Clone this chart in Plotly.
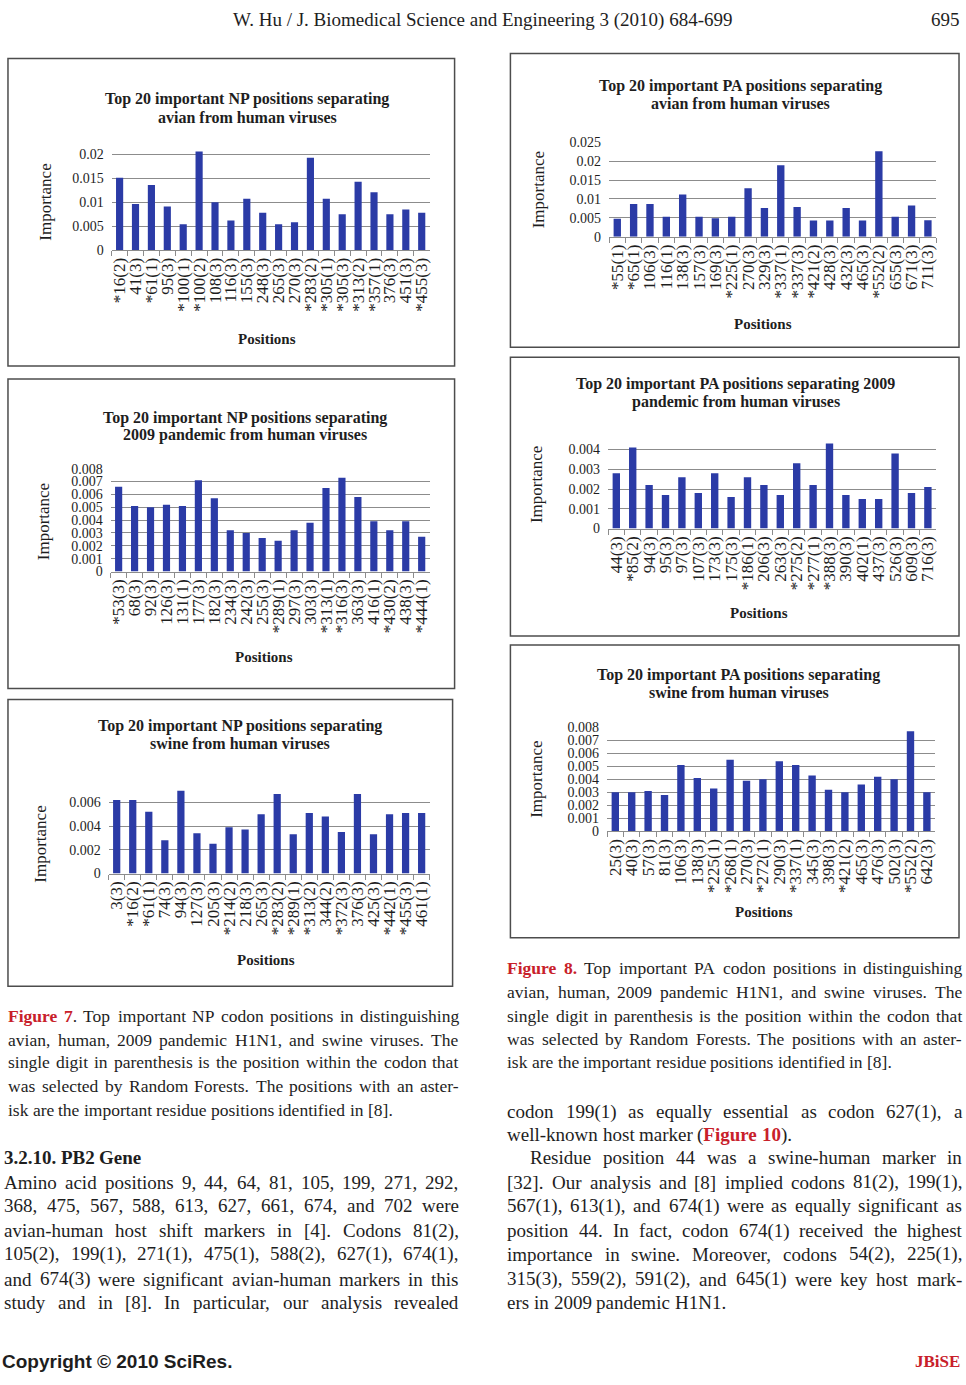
import plotly.graph_objects as go

W, H = 966, 1385
BLUE = '#2B3BA6'
GRID = '#8c8c8c'
AX = '#8c8c8c'
TXT = '#1e1e1e'
RED = '#C8202A'
SERIF = 'Liberation Serif'

# ---------------- data ----------------
np_avian_pos = ["*16(2)", "41(3)", "*61(1)", "95(3)", "*100(1)", "*100(2)", "108(3)", "116(3)", "155(3)", "248(3)",
                "265(3)", "270(3)", "*283(2)", "*305(1)", "*305(3)", "*313(2)", "*357(1)", "376(3)", "451(3)", "*455(3)"]
np_avian_imp = [0.0151, 0.0096, 0.0136, 0.0091, 0.0054, 0.0206, 0.0100, 0.0062, 0.0107, 0.0078,
                0.0054, 0.0058, 0.0193, 0.0107, 0.0075, 0.0143, 0.0121, 0.0075, 0.0085, 0.0078]

np_pdm_pos = ["*53(3)", "68(3)", "92(3)", "126(3)", "131(1)", "177(3)", "182(3)", "234(3)", "242(3)", "255(3)",
              "*289(1)", "297(3)", "303(3)", "*313(1)", "*316(3)", "363(3)", "416(1)", "*430(2)", "438(3)", "*444(1)"]
np_pdm_imp = [0.0066, 0.0051, 0.0050, 0.0052, 0.0051, 0.0071, 0.0057, 0.0032, 0.0030, 0.0026,
              0.0024, 0.0032, 0.0038, 0.0065, 0.0073, 0.0058, 0.0039, 0.0032, 0.0039, 0.0027]

np_swine_pos = ["3(3)", "*16(2)", "*61(1)", "74(3)", "94(3)", "127(3)", "205(3)", "*214(2)", "218(3)", "265(3)",
                "*283(2)", "*289(1)", "*313(2)", "344(2)", "*372(3)", "376(3)", "425(3)", "*442(1)", "*455(3)", "461(1)"]
np_swine_imp = [0.0062, 0.0062, 0.0052, 0.0028, 0.0070, 0.0034, 0.0025, 0.0039, 0.0037, 0.0050,
                0.0067, 0.0033, 0.0051, 0.0048, 0.0035, 0.0067, 0.0033, 0.0050, 0.0051, 0.0051]

pa_avian_pos = ["*55(1)", "*65(1)", "106(3)", "116(1)", "138(3)", "157(3)", "169(3)", "*225(1)", "270(3)", "329(3)",
                "*337(1)", "*337(3)", "*421(2)", "428(3)", "432(3)", "465(3)", "*552(2)", "655(3)", "671(3)", "711(3)"]
pa_avian_imp = [0.0048, 0.0087, 0.0087, 0.0053, 0.0112, 0.0053, 0.0049, 0.0053, 0.0128, 0.0076,
                0.0189, 0.0079, 0.0043, 0.0043, 0.0076, 0.0043, 0.0226, 0.0053, 0.0083, 0.0044]

pa_pdm_pos = ["44(3)", "*85(2)", "94(3)", "95(3)", "97(3)", "107(3)", "173(3)", "175(3)", "*186(1)", "206(3)",
              "263(3)", "*275(2)", "*277(1)", "*388(3)", "390(3)", "402(1)", "437(3)", "526(3)", "609(3)", "716(3)"]
pa_pdm_imp = [0.0028, 0.0041, 0.0022, 0.0017, 0.0026, 0.0018, 0.0028, 0.0016, 0.0026, 0.0022,
              0.0017, 0.0033, 0.0022, 0.0043, 0.0017, 0.0015, 0.0015, 0.0038, 0.0018, 0.0021]

pa_swine_pos = ["25(3)", "40(3)", "57(3)", "81(3)", "106(3)", "138(3)", "*225(1)", "*268(1)", "270(3)", "*272(1)",
                "290(3)", "*337(1)", "345(3)", "398(3)", "*421(2)", "465(3)", "476(3)", "502(3)", "*552(2)", "642(3)"]
pa_swine_imp = [0.0030, 0.0030, 0.0031, 0.0028, 0.0051, 0.0041, 0.0033, 0.0055, 0.0039, 0.0040,
                0.0054, 0.0051, 0.0043, 0.0032, 0.0030, 0.0036, 0.0042, 0.0040, 0.0077, 0.0030]

ticks_02 = [0, 0.005, 0.01, 0.015, 0.02]
ticks_02_txt = ["0", "0.005", "0.01", "0.015", "0.02"]
ticks_025 = [0, 0.005, 0.01, 0.015, 0.02, 0.025]
ticks_025_txt = ["0", "0.005", "0.01", "0.015", "0.02", "0.025"]
ticks_008 = [0, 0.001, 0.002, 0.003, 0.004, 0.005, 0.006, 0.007, 0.008]
ticks_008_txt = ["0", "0.001", "0.002", "0.003", "0.004", "0.005", "0.006", "0.007", "0.008"]
ticks_006 = [0, 0.002, 0.004, 0.006]
ticks_006_txt = ["0", "0.002", "0.004", "0.006"]
ticks_004 = [0, 0.001, 0.002, 0.003, 0.004]
ticks_004_txt = ["0", "0.001", "0.002", "0.003", "0.004"]

# ---------------- text ----------------
HEADER = "W. Hu / J. Biomedical Science and Engineering 3 (2010) 684-699"
PAGE_NO = "695"
CAPTION7 = ["{Figure 7}. Top important NP codon positions in distinguishing",
            "avian, human, 2009 pandemic H1N1, and swine viruses. The",
            "single digit in parenthesis is the position within the codon that",
            "was selected by Random Forests. The positions with an aster-",
            "isk are the important residue positions identified in [8]."]
CAPTION8 = ["{Figure 8.} Top important PA codon positions in distinguishing",
            "avian, human, 2009 pandemic H1N1, and swine viruses. The",
            "single digit in parenthesis is the position within the codon that",
            "was selected by Random Forests. The positions with an aster-",
            "isk are the important residue positions identified in [8]."]
HEADING = "3.2.10. PB2 Gene"
BODY_LEFT = ["Amino acid positions 9, 44, 64, 81, 105, 199, 271, 292,",
             "368, 475, 567, 588, 613, 627, 661, 674, and 702 were",
             "avian-human host shift markers in [4]. Codons 81(2),",
             "105(2), 199(1), 271(1), 475(1), 588(2), 627(1), 674(1),",
             "and 674(3) were significant avian-human markers in this",
             "study and in [8]. In particular, our analysis revealed"]
BODY_RIGHT = ["codon 199(1) as equally essential as codon 627(1), a",
              "well-known host marker ({Figure 10}).",
              "Residue position 44 was a swine-human marker in",
              "[32]. Our analysis and [8] implied codons 81(2), 199(1),",
              "567(1), 613(1), and 674(1) were as equally significant as",
              "position 44. In fact, codon 674(1) received the highest",
              "importance in swine. Moreover, codons 54(2), 225(1),",
              "315(3), 559(2), 591(2), and 645(1) were key host mark-",
              "ers in 2009 pandemic H1N1."]
COPYRIGHT = "Copyright © 2010 SciRes."
JOURNAL = "JBiSE"


def fx(x):
    return x / W


def fy(y):
    return 1 - y / H


# Times-compatible glyph widths (per 1000 em) used to justify text lines
_REG = dict(zip("ABCDEFGHIJKLMNOPQRSTUVWXYZ",
                [722, 667, 667, 722, 611, 556, 722, 722, 333, 389, 722, 611, 889, 722, 722, 556, 722, 667, 556, 611,
                 722, 722, 944, 722, 722, 611]))
_REG.update(dict(zip("abcdefghijklmnopqrstuvwxyz",
                     [444, 500, 444, 500, 444, 333, 500, 500, 278, 278, 500, 278, 778, 500, 500, 500, 500, 333, 389, 278,
                      500, 500, 722, 500, 500, 444])))
_REG.update({c: 500 for c in "0123456789*"})
_REG.update({' ': 250, ',': 250, '.': 250, '(': 333, ')': 333, '[': 333, ']': 333, '-': 333, '/': 278, ':': 278,
             '©': 760})
_BOLD = dict(_REG)
_BOLD.update(dict(zip("ABCDEFGHIJKLMNOPQRSTUVWXYZ",
                      [722, 667, 722, 722, 667, 611, 778, 778, 389, 500, 778, 667, 944, 722, 778, 611, 778, 722, 556, 667,
                       722, 722, 1000, 722, 722, 667])))
_BOLD.update(dict(zip("abcdefghijklmnopqrstuvwxyz",
                      [500, 556, 444, 556, 444, 333, 500, 556, 278, 333, 556, 278, 833, 556, 500, 556, 556, 444, 389, 333,
                       556, 500, 722, 500, 500, 444])))


def text_width(s, bold, size):
    tbl = _BOLD if bold else _REG
    return sum(tbl.get(c, 500) for c in s) * size / 1000.0


def parse_words(line):
    words, cur, red = [], [], False
    for ch in line:
        if ch == '{':
            red = True
            continue
        if ch == '}':
            red = False
            continue
        if ch == ' ':
            if cur:
                words.append(cur)
            cur = []
            continue
        if cur and cur[-1][1] == red:
            cur[-1] = (cur[-1][0] + ch, red)
        else:
            cur.append((ch, red))
    if cur:
        words.append(cur)
    return words


annotations = []


def add_text_line(line, x0, x1, y, size, justify, all_bold=False):
    words = parse_words(line)
    widths = []
    htmls = []
    for w in words:
        wd = 0
        h = ''
        for seg, red in w:
            b = red or all_bold
            wd += text_width(seg, b, size)
            t = seg
            if b:
                t = '<b>' + t + '</b>'
            if red:
                t = '<span style="color:%s">%s</span>' % (RED, t)
            h += t
        widths.append(wd)
        htmls.append(h)
    space = 0.25 * size
    if justify and len(words) > 1:
        gap = (x1 - x0 - sum(widths)) / (len(words) - 1)
    else:
        gap = space
    x = x0
    for h, wd in zip(htmls, widths):
        annotations.append(dict(x=fx(x), y=fy(y), xref='paper', yref='paper', text=h, showarrow=False,
                                xanchor='left', yanchor='middle', borderpad=0,
                                font=dict(family=SERIF, size=size, color=TXT)))
        x += wd + gap


def add_label(text, x, y, size, bold=False, angle=0, xanchor='center', family=SERIF, color=TXT):
    annotations.append(dict(x=fx(x), y=fy(y), xref='paper', yref='paper',
                            text=('<b>%s</b>' % text) if bold else text, showarrow=False,
                            xanchor=xanchor, yanchor='middle', textangle=angle, borderpad=0,
                            font=dict(family=family, size=size, color=color)))


# ---------------- chart layout (pixel geometry of the page) ----------------
charts = [
    dict(cats=np_avian_pos, vals=np_avian_imp, tv=ticks_02, tt=ticks_02_txt, rmax=0.021, ref=(0.02, 149.0),
         x0=111, x1=430, zero=245.7, frame=(7, 52, 455, 363),
         title=("Top 20 important NP positions separating", "avian from human viruses"), tx=247, ty=(93, 112),
         pos=(267, 336), imp=(45, 197)),
    dict(cats=np_pdm_pos, vals=np_pdm_imp, tv=ticks_008, tt=ticks_008_txt, rmax=0.008, ref=(0.008, 466.7),
         x0=110, x1=430, zero=570.7, frame=(7, 376, 455, 689),
         title=("Top 20 important NP positions separating", "2009 pandemic from human viruses"), tx=245,
         ty=(415, 433), pos=(264, 657), imp=(42, 520)),
    dict(cats=np_swine_pos, vals=np_swine_imp, tv=ticks_006, tt=ticks_006_txt, rmax=0.007, ref=(0.006, 804.0),
         x0=108, x1=430, zero=876.0, frame=(7, 700, 453, 990),
         title=("Top 20 important NP positions separating", "swine from human viruses"), tx=240, ty=(727, 745),
         pos=(266, 963), imp=(40, 846)),
    dict(cats=pa_avian_pos, vals=pa_avian_imp, tv=ticks_025, tt=ticks_025_txt, rmax=0.025, ref=(0.025, 136.7),
         x0=610, x1=938, zero=232.3, frame=(511, 47, 961, 344),
         title=("Top 20 important PA positions separating", "avian from human viruses"), tx=742, ty=(80, 98),
         pos=(764, 320), imp=(540, 185)),
    dict(cats=pa_pdm_pos, vals=pa_pdm_imp, tv=ticks_004, tt=ticks_004_txt, rmax=0.0044, ref=(0.004, 447.3),
         x0=609, x1=938, zero=527.3, frame=(511, 354, 961, 636),
         title=("Top 20 important PA positions separating 2009", "pandemic from human viruses"), tx=737,
         ty=(381, 399), pos=(760, 613), imp=(537, 483)),
    dict(cats=pa_swine_pos, vals=pa_swine_imp, tv=ticks_008, tt=ticks_008_txt, rmax=0.008, ref=(0.008, 728.3),
         x0=608, x1=937, zero=833.3, frame=(511, 645, 961, 941),
         title=("Top 20 important PA positions separating", "swine from human viruses"), tx=740, ty=(675, 693),
         pos=(765, 915), imp=(537, 781)),
]

fig = go.Figure()
layout = dict(width=W, height=H, margin=dict(l=0, r=0, t=0, b=0), showlegend=False,
              paper_bgcolor='white', plot_bgcolor='white', bargap=0.55)
shapes = []

for i, c in enumerate(charts, start=1):
    sfx = '' if i == 1 else str(i)
    vref, pref = c['ref']
    top_px = c['zero'] - (c['zero'] - pref) * c['rmax'] / vref
    fig.add_trace(go.Bar(x=c['cats'], y=c['vals'], xaxis='x' + sfx, yaxis='y' + sfx,
                         marker=dict(color=BLUE, line=dict(width=0)), width=0.45, hoverinfo='x+y'))
    layout['xaxis' + sfx] = dict(domain=[fx(c['x0']), fx(c['x1'])], anchor='y' + sfx, type='category',
                                 categoryorder='array', categoryarray=c['cats'], tickmode='linear', dtick=1,
                                 tickangle=-90, tickfont=dict(family=SERIF, size=17, color=TXT),
                                 showline=True, linecolor=AX, linewidth=1, ticks='outside', tickson='boundaries',
                                 ticklen=5, tickcolor=AX, showgrid=False, zeroline=False)
    layout['yaxis' + sfx] = dict(domain=[fy(c['zero']), fy(top_px)], anchor='x' + sfx, range=[0, c['rmax']],
                                 tickmode='array', tickvals=c['tv'], ticktext=c['tt'], showgrid=True,
                                 gridcolor=GRID, gridwidth=1, zeroline=False, showline=False, ticks='',
                                 ticklabelstandoff=7, tickfont=dict(family=SERIF, size=14, color=TXT))
    fx0, fy0, fx1, fy1 = c['frame']
    shapes.append(dict(type='rect', xref='paper', yref='paper', x0=fx(fx0), x1=fx(fx1), y0=fy(fy1), y1=fy(fy0),
                       line=dict(color='#4d4d4d', width=1.5), fillcolor='rgba(0,0,0,0)', layer='below'))
    add_label(c['title'][0], c['tx'], c['ty'][0], 16, bold=True)
    add_label(c['title'][1], c['tx'], c['ty'][1], 16, bold=True)
    add_label('Positions', c['pos'][0], c['pos'][1], 15, bold=True)
    add_label('Importance', c['imp'][0], c['imp'][1], 17, angle=-90)

# ---------------- page text ----------------
add_label(HEADER, 483, 13, 19)
add_label(PAGE_NO, 963, 13, 19, xanchor='right')

cap7_y = [1020, 1044, 1067, 1091, 1115]
for k, (line, y) in enumerate(zip(CAPTION7, cap7_y)):
    add_text_line(line, 6, 458, y, 17.5, justify=(k < len(CAPTION7) - 1))

cap8_y = [972, 996, 1020, 1043, 1067]
for k, (line, y) in enumerate(zip(CAPTION8, cap8_y)):
    add_text_line(line, 507, 963, y, 17.5, justify=(k < len(CAPTION8) - 1))

add_text_line(HEADING, 2, 458, 1163, 19, justify=False, all_bold=True)
left_y = [1188, 1212, 1237, 1261, 1286, 1310]
for line, y in zip(BODY_LEFT, left_y):
    add_text_line(line, 2, 458, y, 19, justify=True)

right_y = [1117, 1140, 1163, 1188, 1212, 1237, 1261, 1286, 1310]
right_x0 = [507, 507, 530, 507, 507, 507, 507, 507, 507]
right_just = [True, False, True, True, True, True, True, True, False]
for line, y, x0, j in zip(BODY_RIGHT, right_y, right_x0, right_just):
    add_text_line(line, x0, 963, y, 19, justify=j)

add_label(COPYRIGHT, 0, 1369, 19, bold=True, xanchor='left', family='Liberation Sans')
add_label(JOURNAL, 963, 1369, 17, bold=True, xanchor='right', color=RED)

layout['annotations'] = annotations
layout['shapes'] = shapes
fig.update_layout(**layout)
fig.write_html("out.html",
               config={'displayModeBar': False},
               post_script="document.body.style.margin='0px';document.body.style.padding='0px';"
                           "document.documentElement.style.overflow='hidden';"
                           "var gd=document.getElementById('{plot_id}');"
                           "gd.style.position='fixed';gd.style.left='0px';gd.style.top='0px';")
